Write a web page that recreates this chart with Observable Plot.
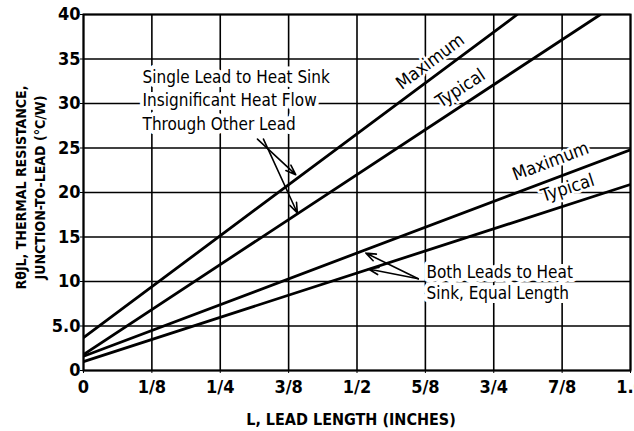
<!DOCTYPE html>
<html><head><meta charset="utf-8">
<script src="https://cdn.jsdelivr.net/npm/d3@7"></script>
<script src="https://cdn.jsdelivr.net/npm/@observablehq/plot@0.6"></script>
<style>body{margin:0;background:#fff}</style>
</head><body><div id="chart"></div>
<script>
const FONT = '"DejaVu Sans Condensed","Liberation Sans Narrow",sans-serif';

// axis ticks
const xTicks = [0, 0.125, 0.25, 0.375, 0.5, 0.625, 0.75, 0.875, 1];
const xTickLabels = ["0", "1/8", "1/4", "3/8", "1/2", "5/8", "3/4", "7/8", "1.0"];
const yTicks = [0, 5, 10, 15, 20, 25, 30, 35, 40];
const yTickLabels = ["0", "5.0", "10", "15", "20", "25", "30", "35", "40"];

// series (lead length in inches -> thermal resistance °C/W)
const singleMaxX = [0, 0.793];
const singleMaxY = [3.7, 40];
const singleTypX = [0, 0.945];
const singleTypY = [1.8, 40];
const bothMaxX = [0, 1];
const bothMaxY = [1.6, 24.8];
const bothTypX = [0, 1];
const bothTypY = [1.0, 20.9];

// curve labels
const curveLabels = ["Maximum", "Typical", "Maximum", "Typical"];
const curveLabelX = [0.634, 0.689, 0.854, 0.885];
const curveLabelY = [34.7, 31.7, 23.5, 20.5];
const curveLabelAngle = [-36.8, -33.4, -20.7, -18];

// annotations
const noteText = ["Single Lead to Heat Sink\nInsignificant Heat Flow\nThrough Other Lead", "Both Leads to Heat\nSink, Equal Length"];
const noteX = [0.108, 0.627];
const noteY = [30.5, 9.97];
const noteLineHeight = [1.36, 1.22];

const arrowX1 = [0.318, 0.329, 0.612, 0.612];
const arrowY1 = [26.0, 26.0, 10.3, 10.3];
const arrowX2 = [0.388, 0.391, 0.516, 0.521];
const arrowY2 = [22.0, 17.7, 13.2, 11.4];

const toPts = (xs, ys) => xs.map((x, i) => ({x, y: ys[i]}));
const series = [
  toPts(singleMaxX, singleMaxY),
  toPts(singleTypX, singleTypY),
  toPts(bothMaxX, bothMaxY),
  toPts(bothTypX, bothTypY)
];
const labelsData = curveLabels.map((t, i) => ({t, x: curveLabelX[i], y: curveLabelY[i], a: curveLabelAngle[i]}));
const notesData = noteText.map((t, i) => ({t, x: noteX[i], y: noteY[i]}));
const arrowsData = arrowX1.map((x1, i) => ({x1, y1: arrowY1[i], x2: arrowX2[i], y2: arrowY2[i]}));

const chart = Plot.plot({
  width: 634,
  height: 431,
  marginLeft: 83,
  marginRight: 4,
  marginTop: 14,
  marginBottom: 61,
  x: {domain: [0, 1]},
  y: {domain: [0, 40]},
  style: {fontFamily: FONT, fontSize: "18px", background: "white", color: "black"},
  marks: [
    Plot.gridX(xTicks, {stroke: "black", strokeOpacity: 1, strokeWidth: 1.6}),
    Plot.gridY(yTicks, {stroke: "black", strokeOpacity: 1, strokeWidth: 1.6}),
    Plot.axisX(xTicks, {tickFormat: d => xTickLabels[xTicks.indexOf(d)], tickSize: 3, tickPadding: 7, fontWeight: "bold", label: null}),
    Plot.axisY(yTicks, {tickFormat: d => yTickLabels[yTicks.indexOf(d)], tickSize: 3, tickPadding: 0, fontWeight: "bold", label: null}),
    Plot.text(["L, LEAD LENGTH (INCHES)"], {frameAnchor: "bottom", textAnchor: "middle", dx: -6, dy: 54, fontWeight: "bold", fontSize: 16}),
    Plot.text(["RθJL, THERMAL RESISTANCE,\nJUNCTION-TO-LEAD (°C/W)"], {frameAnchor: "left", textAnchor: "middle", dx: -54, dy: -5, rotate: -90, fontWeight: "bold", fontSize: 14, lineHeight: 1.36}),
    ...series.map(s => Plot.line(s, {x: "x", y: "y", stroke: "black", strokeWidth: 2.8, clip: true})),
    Plot.frame({stroke: "black", strokeWidth: 2}),
    Plot.text(notesData.slice(0, 1), {x: "x", y: "y", text: "t", textAnchor: "start", lineAnchor: "middle", lineHeight: noteLineHeight[0], fontSize: 17, stroke: "white", strokeWidth: 8, fill: "black"}),
    Plot.text(notesData.slice(1), {x: "x", y: "y", text: "t", textAnchor: "start", lineAnchor: "middle", lineHeight: noteLineHeight[1], fontSize: 17, stroke: "white", strokeWidth: 8, fill: "black"}),
    Plot.arrow(arrowsData, {x1: "x1", y1: "y1", x2: "x2", y2: "y2", stroke: "black", strokeWidth: 1.6, headLength: 10, headAngle: 40}),
    ...labelsData.map(d => Plot.text([d], {x: "x", y: "y", text: "t", rotate: d.a, fontSize: 18, stroke: "white", strokeWidth: 5, fill: "black"}))
  ]
});
document.getElementById("chart").appendChild(chart);
</script>
</body></html>
